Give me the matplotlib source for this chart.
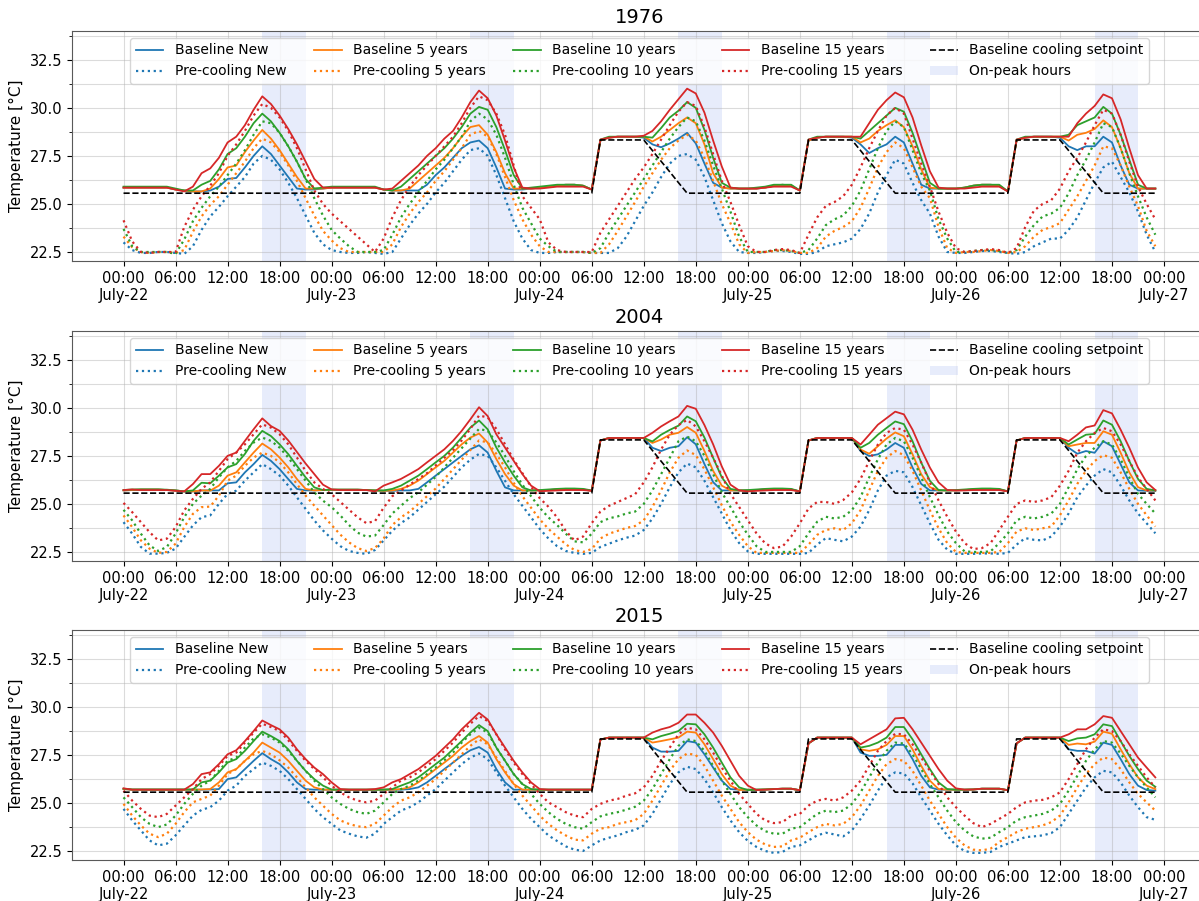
import numpy as np
import matplotlib.pyplot as plt
from matplotlib.ticker import MultipleLocator

# hourly indoor temperature, July-22 00:00 .. July-26 23:00 (one row per day)

# ---- 1976 ----
base_new_1976 = [
    25.85, 25.85, 25.85, 25.85, 25.85, 25.85, 25.75, 25.7, 25.65, 25.65, 25.7, 25.9, 26.3, 26.35, 26.9, 27.5, 28.0, 27.6, 27.0, 26.4, 25.8, 25.75, 25.75, 25.8,
    25.85, 25.85, 25.85, 25.85, 25.85, 25.85, 25.75, 25.7, 25.7, 25.7, 25.7, 26.0, 26.5, 26.9, 27.4, 27.9, 28.2, 28.3, 27.9, 26.9, 25.8, 25.75, 25.75, 25.8,
    25.85, 25.9, 25.95, 26.0, 26.0, 25.95, 25.75, 28.3, 28.45, 28.5, 28.5, 28.5, 28.45, 28.1, 27.95, 28.15, 28.4, 28.7, 28.15, 27.1, 26.1, 25.85, 25.8, 25.8,
    25.8, 25.8, 25.85, 25.95, 26.0, 25.95, 25.7, 28.3, 28.45, 28.5, 28.5, 28.5, 28.45, 28.1, 27.65, 27.9, 28.1, 28.5, 28.2, 27.1, 26.0, 25.8, 25.8, 25.8,
    25.8, 25.85, 25.95, 26.0, 26.0, 25.95, 25.65, 28.3, 28.45, 28.5, 28.5, 28.5, 28.45, 28.0, 27.8, 28.0, 28.0, 28.5, 28.2, 27.0, 26.0, 25.8, 25.8, 25.8,
]
base_5_1976 = [
    25.85, 25.85, 25.85, 25.85, 25.85, 25.85, 25.75, 25.7, 25.65, 25.65, 25.8, 26.3, 26.9, 27.0, 27.7, 28.3, 28.85, 28.4, 27.8, 27.1, 26.4, 25.8, 25.8, 25.8,
    25.85, 25.85, 25.85, 25.85, 25.85, 25.85, 25.75, 25.7, 25.7, 25.8, 26.2, 26.6, 27.0, 27.4, 27.9, 28.5, 29.0, 29.1, 28.6, 27.7, 26.6, 25.8, 25.8, 25.8,
    25.85, 25.9, 25.95, 26.0, 26.0, 25.95, 25.75, 28.3, 28.45, 28.5, 28.5, 28.5, 28.5, 28.25, 28.5, 28.85, 29.2, 29.5, 29.2, 28.1, 26.6, 25.85, 25.8, 25.8,
    25.8, 25.8, 25.85, 25.95, 26.0, 25.95, 25.7, 28.3, 28.45, 28.5, 28.5, 28.5, 28.5, 28.2, 28.4, 28.8, 29.1, 29.35, 29.0, 28.0, 26.8, 25.85, 25.8, 25.8,
    25.8, 25.85, 25.95, 26.0, 26.0, 25.95, 25.65, 28.3, 28.45, 28.5, 28.5, 28.5, 28.5, 28.3, 28.6, 28.7, 28.9, 29.35, 29.0, 27.9, 26.6, 25.8, 25.8, 25.8,
]
base_10_1976 = [
    25.9, 25.9, 25.9, 25.9, 25.9, 25.9, 25.8, 25.7, 25.7, 26.0, 26.2, 26.8, 27.6, 27.9, 28.5, 29.2, 29.7, 29.3, 28.7, 28.0, 27.2, 26.3, 25.8, 25.85,
    25.9, 25.9, 25.9, 25.9, 25.9, 25.9, 25.75, 25.7, 25.9, 26.3, 26.7, 27.1, 27.5, 27.9, 28.4, 29.0, 29.7, 30.05, 29.9, 29.0, 27.8, 26.5, 25.8, 25.85,
    25.9, 25.95, 26.0, 26.0, 26.0, 25.95, 25.75, 28.35, 28.5, 28.5, 28.5, 28.5, 28.5, 28.45, 28.95, 29.5, 29.85, 30.3, 30.0, 28.85, 27.4, 26.1, 25.85, 25.8,
    25.8, 25.85, 25.9, 26.0, 26.0, 26.0, 25.7, 28.35, 28.5, 28.5, 28.5, 28.5, 28.5, 28.4, 28.8, 29.2, 29.6, 30.0, 29.8, 28.7, 27.4, 26.1, 25.8, 25.8,
    25.8, 25.85, 25.95, 26.0, 26.0, 26.0, 25.65, 28.35, 28.5, 28.5, 28.5, 28.5, 28.5, 28.6, 29.1, 29.3, 29.5, 30.05, 29.7, 28.6, 27.3, 26.0, 25.8, 25.8,
]
base_15_1976 = [
    25.85, 25.85, 25.85, 25.85, 25.85, 25.85, 25.75, 25.65, 25.9, 26.6, 26.85, 27.4, 28.2, 28.5, 29.1, 29.9, 30.6, 30.2, 29.6, 28.9, 28.1, 27.2, 26.3, 25.85,
    25.85, 25.85, 25.85, 25.85, 25.85, 25.85, 25.75, 25.8, 26.2, 26.6, 27.0, 27.5, 27.9, 28.4, 28.8, 29.5, 30.3, 30.9, 30.5, 29.6, 28.3, 26.9, 25.85, 25.8,
    25.8, 25.85, 25.9, 25.9, 25.9, 25.9, 25.75, 28.35, 28.45, 28.5, 28.5, 28.5, 28.55, 28.8, 29.3, 29.9, 30.45, 31.0, 30.75, 29.75, 28.3, 26.95, 25.85, 25.8,
    25.8, 25.8, 25.85, 25.9, 25.9, 25.9, 25.7, 28.35, 28.45, 28.5, 28.5, 28.5, 28.5, 28.5, 29.2, 29.9, 30.4, 30.8, 30.55, 29.5, 28.05, 26.7, 25.85, 25.8,
    25.8, 25.8, 25.85, 25.9, 25.9, 25.9, 25.65, 28.35, 28.45, 28.5, 28.5, 28.5, 28.5, 28.5, 29.2, 29.7, 30.1, 30.7, 30.5, 29.4, 27.9, 26.5, 25.8, 25.8,
]
pre_new_1976 = [
    23.0, 22.6, 22.45, 22.45, 22.5, 22.5, 22.45, 22.4, 22.8, 23.65, 24.35, 24.85, 25.4, 25.9, 26.4, 27.1, 27.5, 27.3, 26.8, 26.1, 25.3, 24.4, 23.5, 22.9,
    22.6, 22.5, 22.45, 22.45, 22.5, 22.45, 22.4, 22.5, 23.2, 23.9, 24.5, 25.0, 25.6, 26.1, 26.7, 27.3, 27.8, 27.9, 27.5, 26.5, 25.3, 24.1, 23.2, 22.6,
    22.45, 22.45, 22.5, 22.5, 22.5, 22.5, 22.45, 22.45, 22.45, 22.7, 23.3, 24.1, 24.9, 25.6, 26.4, 27.1, 27.5, 27.6, 27.3, 26.4, 25.2, 24.0, 23.05, 22.5,
    22.45, 22.45, 22.5, 22.55, 22.55, 22.5, 22.4, 22.4, 22.5, 22.8, 22.9, 23.0, 23.2, 23.7, 24.5, 25.6, 26.5, 27.3, 27.1, 26.1, 25.2, 24.5, 23.3, 22.5,
    22.45, 22.45, 22.5, 22.55, 22.55, 22.5, 22.45, 22.4, 22.5, 22.8, 23.0, 23.2, 23.2, 23.65, 24.3, 25.2, 26.1, 26.9, 27.2, 26.4, 25.6, 24.6, 23.4, 22.5,
]
pre_5_1976 = [
    23.3, 22.75, 22.5, 22.45, 22.5, 22.5, 22.45, 22.6, 23.55, 24.35, 24.95, 25.4, 26.0, 26.6, 27.2, 27.9, 28.4, 28.2, 27.7, 27.0, 26.2, 25.3, 24.4, 23.6,
    23.1, 22.7, 22.5, 22.5, 22.5, 22.5, 22.5, 22.9, 23.8, 24.5, 25.1, 25.6, 26.2, 26.7, 27.3, 27.9, 28.6, 28.8, 28.5, 27.6, 26.4, 25.2, 24.2, 23.4,
    22.8, 22.5, 22.5, 22.5, 22.5, 22.5, 22.45, 22.45, 22.9, 23.6, 24.35, 25.1, 25.9, 26.6, 27.3, 27.9, 28.3, 28.6, 28.3, 27.4, 26.2, 25.0, 24.0, 22.9,
    22.45, 22.5, 22.5, 22.55, 22.6, 22.55, 22.45, 22.45, 22.7, 23.3, 23.6, 23.8, 24.1, 24.8, 25.8, 26.9, 27.7, 28.2, 27.9, 26.9, 25.9, 25.3, 23.8, 22.7,
    22.45, 22.5, 22.5, 22.55, 22.6, 22.55, 22.45, 22.5, 22.8, 23.3, 23.65, 23.8, 24.0, 24.7, 25.4, 26.2, 27.0, 28.0, 27.9, 27.0, 25.9, 24.9, 23.6, 22.8,
]
pre_10_1976 = [
    23.7, 22.8, 22.5, 22.5, 22.5, 22.5, 22.4, 23.15, 24.1, 24.8, 25.4, 25.9, 26.5, 27.1, 27.8, 28.6, 29.3, 29.2, 28.7, 28.0, 27.2, 26.3, 25.3, 24.4,
    23.65, 23.2, 22.8, 22.5, 22.5, 22.5, 22.6, 23.4, 24.3, 25.0, 25.6, 26.2, 26.8, 27.3, 27.9, 28.5, 29.3, 29.7, 29.4, 28.6, 27.4, 26.0, 24.8, 24.0,
    23.2, 22.8, 22.5, 22.5, 22.5, 22.5, 22.45, 22.7, 23.5, 24.2, 24.9, 25.6, 26.3, 27.0, 27.7, 28.4, 29.0, 29.5, 29.3, 28.3, 27.0, 25.8, 24.6, 23.3,
    22.5, 22.5, 22.5, 22.6, 22.6, 22.55, 22.45, 22.6, 23.2, 23.9, 24.2, 24.4, 24.9, 25.7, 26.8, 27.9, 28.8, 29.3, 29.0, 27.8, 26.6, 25.7, 24.2, 23.2,
    22.5, 22.5, 22.55, 22.6, 22.6, 22.55, 22.45, 22.6, 23.3, 23.9, 24.35, 24.5, 24.8, 25.55, 26.5, 27.3, 28.2, 29.2, 29.0, 27.9, 26.6, 25.4, 24.3, 23.4,
]
pre_15_1976 = [
    24.15, 23.05, 22.5, 22.45, 22.5, 22.5, 22.5, 23.8, 24.7, 25.4, 25.95, 26.6, 27.5, 28.1, 28.8, 29.6, 30.2, 30.0, 29.5, 28.8, 27.9, 26.8, 25.7, 25.0,
    24.5, 24.1, 23.7, 23.3, 22.9, 22.5, 23.2, 24.3, 25.2, 25.9, 26.5, 27.0, 27.5, 28.0, 28.5, 29.2, 30.0, 30.6, 30.4, 29.7, 28.6, 27.0, 25.4, 24.8,
    24.2, 23.0, 22.6, 22.5, 22.5, 22.5, 22.5, 23.5, 24.2, 24.9, 25.6, 26.3, 26.9, 27.6, 28.35, 29.1, 29.8, 30.3, 30.1, 29.0, 27.6, 26.2, 25.1, 23.9,
    22.8, 22.5, 22.5, 22.6, 22.65, 22.6, 22.45, 23.4, 24.3, 24.9, 25.1, 25.4, 26.0, 26.9, 27.9, 28.8, 29.6, 30.0, 29.7, 28.4, 27.1, 25.9, 24.6, 23.5,
    22.7, 22.5, 22.55, 22.6, 22.65, 22.6, 22.45, 22.7, 23.8, 24.65, 25.0, 25.2, 25.8, 26.7, 27.4, 28.2, 29.1, 29.9, 29.7, 28.6, 27.2, 25.9, 25.0, 24.2,
]

# ---- 2004 ----
base_new_2004 = [
    25.7, 25.72, 25.75, 25.75, 25.75, 25.72, 25.7, 25.65, 25.65, 25.7, 25.7, 25.7, 26.07, 26.12, 26.64, 27.07, 27.55, 27.24, 26.81, 26.29, 25.78, 25.7, 25.7, 25.72,
    25.74, 25.74, 25.74, 25.74, 25.72, 25.7, 25.68, 25.68, 25.7, 25.7, 25.78, 26.12, 26.47, 26.81, 27.16, 27.5, 27.84, 28.05, 27.67, 26.72, 25.86, 25.7, 25.7, 25.7,
    25.7, 25.72, 25.75, 25.78, 25.78, 25.75, 25.68, 28.3, 28.43, 28.43, 28.43, 28.43, 28.43, 27.92, 27.75, 27.92, 28.0, 28.47, 28.1, 27.07, 26.13, 25.7, 25.7, 25.7,
    25.7, 25.72, 25.75, 25.78, 25.78, 25.75, 25.65, 28.3, 28.43, 28.43, 28.43, 28.43, 28.43, 27.75, 27.49, 27.58, 27.83, 28.17, 27.92, 26.89, 26.04, 25.7, 25.7, 25.7,
    25.7, 25.72, 25.75, 25.78, 25.78, 25.75, 25.65, 28.3, 28.43, 28.43, 28.43, 28.43, 28.43, 27.92, 27.61, 27.75, 27.66, 28.26, 28.0, 27.06, 26.12, 25.7, 25.68, 25.68,
]
base_5_2004 = [
    25.7, 25.72, 25.75, 25.75, 25.75, 25.72, 25.7, 25.65, 25.65, 25.7, 25.69, 25.95, 26.47, 26.64, 27.16, 27.67, 28.14, 27.84, 27.41, 26.9, 26.29, 25.78, 25.7, 25.72,
    25.74, 25.74, 25.74, 25.74, 25.72, 25.7, 25.68, 25.7, 25.78, 25.95, 26.21, 26.55, 26.9, 27.24, 27.67, 28.1, 28.45, 28.66, 28.19, 27.33, 26.55, 25.95, 25.7, 25.7,
    25.7, 25.72, 25.75, 25.78, 25.78, 25.75, 25.68, 28.3, 28.43, 28.43, 28.43, 28.43, 28.43, 28.17, 28.35, 28.6, 28.7, 29.0, 28.7, 27.75, 26.72, 25.95, 25.7, 25.7,
    25.7, 25.72, 25.75, 25.78, 25.78, 25.75, 25.65, 28.3, 28.43, 28.43, 28.43, 28.43, 28.43, 27.83, 27.61, 28.0, 28.4, 28.72, 28.52, 27.58, 26.55, 25.87, 25.7, 25.7,
    25.7, 25.72, 25.75, 25.78, 25.78, 25.75, 25.65, 28.3, 28.43, 28.43, 28.43, 28.43, 28.43, 28.0, 28.09, 28.17, 28.17, 28.78, 28.6, 27.66, 26.64, 25.87, 25.7, 25.7,
]
base_10_2004 = [
    25.72, 25.75, 25.75, 25.75, 25.75, 25.74, 25.7, 25.65, 25.7, 26.1, 26.07, 26.47, 26.9, 27.07, 27.6, 28.28, 28.8, 28.53, 28.1, 27.59, 26.98, 26.38, 25.86, 25.72,
    25.74, 25.74, 25.74, 25.74, 25.72, 25.7, 25.7, 25.78, 25.95, 26.21, 26.47, 26.81, 27.16, 27.5, 27.93, 28.45, 28.97, 29.34, 28.88, 27.93, 27.16, 26.47, 25.86, 25.7,
    25.72, 25.75, 25.78, 25.8, 25.8, 25.78, 25.7, 28.3, 28.43, 28.43, 28.43, 28.43, 28.43, 28.25, 28.6, 28.85, 29.07, 29.55, 29.3, 28.45, 27.4, 26.38, 25.78, 25.7,
    25.72, 25.75, 25.78, 25.8, 25.8, 25.78, 25.65, 28.3, 28.43, 28.43, 28.43, 28.43, 28.43, 27.92, 28.17, 28.6, 28.95, 29.29, 29.15, 28.26, 27.15, 26.2, 25.72, 25.7,
    25.72, 25.75, 25.78, 25.8, 25.8, 25.78, 25.65, 28.3, 28.43, 28.43, 28.43, 28.43, 28.43, 28.09, 28.35, 28.6, 28.64, 29.34, 29.12, 28.26, 27.23, 26.3, 25.78, 25.7,
]
base_15_2004 = [
    25.72, 25.75, 25.72, 25.72, 25.72, 25.72, 25.68, 25.65, 26.03, 26.55, 26.55, 26.98, 27.5, 27.67, 28.28, 28.88, 29.45, 29.05, 28.8, 28.3, 27.7, 27.1, 26.55, 26.0,
    25.75, 25.72, 25.72, 25.72, 25.72, 25.65, 25.95, 26.12, 26.3, 26.55, 26.81, 27.16, 27.5, 27.84, 28.28, 28.8, 29.4, 30.03, 29.57, 28.62, 27.93, 27.24, 26.55, 25.95,
    25.66, 25.68, 25.7, 25.72, 25.72, 25.72, 25.68, 28.3, 28.43, 28.43, 28.43, 28.43, 28.43, 28.7, 29.03, 29.3, 29.55, 30.1, 29.95, 29.1, 28.1, 26.95, 26.0, 25.7,
    25.65, 25.68, 25.7, 25.72, 25.72, 25.72, 25.65, 28.3, 28.43, 28.43, 28.43, 28.43, 28.43, 28.09, 28.6, 29.12, 29.46, 29.8, 29.66, 28.86, 27.83, 26.89, 26.12, 25.72,
    25.7, 25.7, 25.72, 25.72, 25.72, 25.72, 25.65, 28.3, 28.43, 28.43, 28.43, 28.43, 28.43, 28.26, 28.6, 28.98, 29.08, 29.88, 29.71, 28.86, 27.92, 26.89, 26.12, 25.72,
]
pre_new_2004 = [
    24.05, 23.45, 22.76, 22.41, 22.41, 22.45, 22.67, 23.28, 23.88, 24.31, 24.4, 25.0, 25.52, 25.69, 26.21, 26.64, 27.07, 26.81, 26.47, 25.95, 25.34, 24.74, 24.14, 23.62,
    23.19, 22.8, 22.55, 22.45, 22.4, 22.6, 23.1, 23.6, 24.0, 24.3, 24.7, 25.1, 25.5, 25.9, 26.4, 26.9, 27.3, 27.6, 27.5, 26.9, 26.2, 25.5, 24.9, 24.3,
    23.7, 23.2, 22.8, 22.55, 22.45, 22.4, 22.45, 22.76, 22.93, 23.1, 23.24, 23.35, 23.64, 24.24, 25.0, 25.87, 26.64, 27.1, 26.9, 26.2, 25.35, 24.5, 23.64, 22.96,
    22.53, 22.4, 22.4, 22.4, 22.4, 22.4, 22.4, 22.45, 22.88, 23.22, 23.13, 23.05, 23.3, 23.82, 24.67, 25.7, 26.47, 26.72, 26.64, 25.87, 24.93, 23.99, 23.13, 22.62,
    22.4, 22.4, 22.4, 22.42, 22.42, 22.4, 22.45, 22.88, 23.22, 23.13, 23.1, 23.3, 23.82, 24.5, 25.35, 25.95, 26.47, 26.81, 26.64, 25.95, 25.18, 24.5, 23.99, 23.47,
]
pre_5_2004 = [
    24.4, 23.79, 23.1, 22.67, 22.45, 22.5, 22.93, 23.79, 24.48, 24.83, 24.86, 25.43, 26.21, 26.47, 26.98, 27.41, 27.67, 27.5, 27.16, 26.64, 26.03, 25.43, 24.91, 24.4,
    23.9, 23.4, 23.0, 22.7, 22.55, 22.7, 23.2, 23.9, 24.3, 24.6, 25.0, 25.4, 25.8, 26.3, 26.8, 27.3, 27.8, 28.3, 28.2, 27.6, 26.9, 26.1, 25.4, 24.8,
    24.2, 23.7, 23.3, 22.9, 22.6, 22.5, 22.65, 23.2, 23.45, 23.6, 23.75, 23.85, 24.15, 24.84, 25.7, 26.64, 27.4, 27.78, 27.54, 26.8, 25.87, 24.93, 24.07, 23.39,
    22.8, 22.45, 22.45, 22.45, 22.45, 22.45, 22.45, 22.88, 23.39, 23.64, 23.73, 23.64, 23.99, 24.67, 25.7, 26.72, 27.4, 27.75, 27.54, 26.72, 25.7, 24.67, 23.73, 22.96,
    22.5, 22.45, 22.45, 22.45, 22.45, 22.5, 22.96, 23.56, 23.73, 23.64, 23.73, 23.82, 24.41, 25.18, 26.04, 26.72, 27.23, 27.54, 27.4, 26.64, 25.78, 25.0, 24.41, 23.82,
]
pre_10_2004 = [
    24.69, 24.14, 23.45, 22.84, 22.55, 22.76, 23.45, 24.31, 25.0, 25.43, 25.78, 26.38, 26.9, 27.24, 27.76, 28.19, 28.45, 28.28, 27.93, 27.41, 26.81, 26.21, 25.6, 25.17,
    24.83, 24.4, 23.9, 23.5, 23.3, 23.35, 23.9, 24.5, 24.9, 25.3, 25.6, 26.0, 26.4, 26.9, 27.4, 27.9, 28.4, 28.9, 28.8, 28.2, 27.5, 26.7, 26.0, 25.4,
    24.8, 24.3, 23.9, 23.45, 23.05, 23.0, 23.45, 24.05, 24.25, 24.35, 24.5, 24.6, 25.0, 25.7, 26.55, 27.4, 28.26, 28.5, 28.26, 27.5, 26.55, 25.6, 24.84, 24.07,
    23.4, 22.8, 22.5, 22.5, 22.5, 22.5, 22.8, 23.47, 24.07, 24.33, 24.24, 24.33, 24.67, 25.35, 26.38, 27.32, 28.09, 28.43, 28.26, 27.4, 26.38, 25.35, 24.41, 23.56,
    22.96, 22.53, 22.5, 22.5, 22.53, 22.96, 23.47, 24.15, 24.33, 24.24, 24.33, 24.5, 25.0, 25.87, 26.81, 27.49, 27.92, 28.26, 28.09, 27.32, 26.38, 25.52, 25.0, 24.5,
]
pre_15_2004 = [
    25.05, 24.57, 24.05, 23.53, 23.1, 23.19, 23.79, 24.66, 25.26, 25.78, 26.12, 26.72, 27.33, 27.67, 28.1, 28.62, 29.14, 28.97, 28.62, 28.1, 27.41, 26.72, 26.12, 25.78,
    25.5, 25.1, 24.7, 24.3, 24.0, 24.1, 24.8, 25.4, 25.7, 26.0, 26.3, 26.6, 27.0, 27.4, 27.8, 28.3, 28.9, 29.6, 29.5, 28.9, 28.1, 27.3, 26.6, 25.9,
    25.3, 24.85, 24.3, 23.6, 23.1, 23.3, 24.0, 24.6, 24.9, 25.1, 25.3, 25.5, 26.12, 26.9, 27.83, 28.6, 29.1, 29.37, 29.03, 28.26, 27.4, 26.47, 25.53, 24.84,
    24.15, 23.47, 22.95, 22.7, 22.78, 23.3, 23.99, 24.76, 25.1, 25.1, 25.0, 25.2, 25.6, 26.3, 27.23, 28.09, 28.69, 28.95, 28.86, 28.09, 27.15, 26.12, 25.18, 24.33,
    23.56, 22.96, 22.65, 22.7, 22.96, 23.64, 24.33, 25.0, 25.18, 25.1, 25.18, 25.35, 25.95, 26.72, 27.66, 28.26, 28.69, 28.95, 28.78, 28.09, 27.23, 26.38, 25.78, 25.18,
]

# ---- 2015 ----
base_new_2015 = [
    25.72, 25.69, 25.69, 25.69, 25.69, 25.69, 25.69, 25.69, 25.69, 25.69, 25.7, 25.72, 26.24, 26.33, 26.76, 27.19, 27.59, 27.28, 27.02, 26.59, 26.07, 25.72, 25.69, 25.69,
    25.69, 25.69, 25.69, 25.69, 25.69, 25.69, 25.69, 25.69, 25.69, 25.72, 25.81, 26.07, 26.41, 26.76, 27.1, 27.45, 27.74, 27.91, 27.62, 26.76, 26.07, 25.69, 25.69, 25.69,
    25.69, 25.69, 25.69, 25.69, 25.69, 25.69, 25.69, 28.3, 28.4, 28.4, 28.4, 28.4, 28.4, 27.88, 27.67, 27.67, 27.71, 28.22, 28.14, 27.53, 26.84, 26.16, 25.72, 25.69,
    25.69, 25.69, 25.7, 25.72, 25.74, 25.74, 25.66, 28.1, 28.4, 28.4, 28.4, 28.4, 28.4, 27.62, 27.45, 27.45, 27.5, 28.02, 28.02, 27.28, 26.41, 25.81, 25.69, 25.69,
    25.69, 25.69, 25.7, 25.74, 25.74, 25.74, 25.66, 28.1, 28.4, 28.4, 28.4, 28.4, 28.4, 27.79, 27.71, 27.71, 27.57, 28.14, 28.02, 27.28, 26.5, 25.9, 25.67, 25.64,
]
base_5_2015 = [
    25.72, 25.69, 25.69, 25.69, 25.69, 25.69, 25.69, 25.69, 25.69, 25.7, 25.72, 26.07, 26.59, 26.76, 27.19, 27.62, 28.14, 27.88, 27.62, 27.19, 26.67, 26.16, 25.81, 25.69,
    25.69, 25.69, 25.69, 25.69, 25.69, 25.69, 25.69, 25.69, 25.72, 25.81, 26.07, 26.41, 26.76, 27.1, 27.45, 27.88, 28.22, 28.48, 28.14, 27.28, 26.59, 25.98, 25.69, 25.69,
    25.69, 25.69, 25.69, 25.69, 25.69, 25.69, 25.69, 28.3, 28.4, 28.4, 28.4, 28.4, 28.4, 28.14, 28.22, 28.31, 28.4, 28.71, 28.66, 28.05, 27.28, 26.5, 25.9, 25.67,
    25.69, 25.69, 25.7, 25.72, 25.74, 25.74, 25.66, 28.1, 28.4, 28.4, 28.4, 28.4, 28.4, 27.79, 27.71, 27.79, 28.02, 28.48, 28.48, 27.79, 26.93, 26.16, 25.72, 25.69,
    25.69, 25.69, 25.7, 25.74, 25.74, 25.74, 25.66, 28.1, 28.4, 28.4, 28.4, 28.4, 28.4, 28.02, 28.09, 28.05, 28.19, 28.71, 28.6, 27.79, 27.02, 26.33, 25.9, 25.72,
]
base_10_2015 = [
    25.74, 25.7, 25.7, 25.7, 25.7, 25.7, 25.7, 25.7, 25.7, 26.07, 26.16, 26.59, 27.1, 27.28, 27.71, 28.22, 28.71, 28.48, 28.22, 27.79, 27.19, 26.67, 26.24, 25.9,
    25.69, 25.69, 25.69, 25.69, 25.69, 25.69, 25.69, 25.72, 25.9, 26.07, 26.33, 26.67, 27.02, 27.36, 27.79, 28.22, 28.66, 29.05, 28.74, 27.88, 27.19, 26.5, 25.98, 25.72,
    25.69, 25.69, 25.69, 25.69, 25.69, 25.69, 25.69, 28.3, 28.4, 28.4, 28.4, 28.4, 28.4, 28.31, 28.48, 28.6, 28.74, 29.12, 29.09, 28.57, 27.88, 27.1, 26.33, 25.81,
    25.67, 25.69, 25.7, 25.72, 25.74, 25.74, 25.66, 28.1, 28.4, 28.4, 28.4, 28.4, 28.4, 27.88, 27.97, 28.14, 28.4, 28.95, 28.95, 28.31, 27.53, 26.76, 26.07, 25.72,
    25.69, 25.69, 25.7, 25.74, 25.74, 25.74, 25.66, 28.1, 28.4, 28.4, 28.4, 28.4, 28.4, 28.22, 28.36, 28.4, 28.57, 29.09, 29.0, 28.22, 27.45, 26.76, 26.16, 25.84,
]
base_15_2015 = [
    25.76, 25.69, 25.69, 25.69, 25.69, 25.69, 25.69, 25.69, 25.98, 26.5, 26.59, 27.02, 27.53, 27.74, 28.22, 28.74, 29.29, 29.05, 28.83, 28.4, 27.79, 27.28, 26.84, 26.5,
    26.07, 25.72, 25.69, 25.69, 25.69, 25.72, 25.81, 26.07, 26.24, 26.5, 26.76, 27.1, 27.45, 27.88, 28.31, 28.83, 29.26, 29.69, 29.34, 28.57, 27.88, 27.19, 26.59, 26.07,
    25.72, 25.69, 25.69, 25.69, 25.69, 25.69, 25.69, 28.3, 28.4, 28.4, 28.4, 28.4, 28.4, 28.66, 28.83, 28.95, 29.17, 29.6, 29.6, 29.17, 28.66, 27.97, 27.19, 26.41,
    25.9, 25.67, 25.69, 25.72, 25.74, 25.74, 25.66, 28.1, 28.4, 28.4, 28.4, 28.4, 28.4, 28.05, 28.31, 28.57, 28.83, 29.4, 29.43, 28.83, 28.14, 27.45, 26.76, 26.16,
    25.76, 25.69, 25.7, 25.74, 25.74, 25.74, 25.66, 28.1, 28.4, 28.4, 28.4, 28.4, 28.4, 28.57, 28.83, 28.83, 29.09, 29.52, 29.43, 28.74, 28.05, 27.36, 26.84, 26.33,
]
pre_new_2015 = [
    24.69, 24.09, 23.57, 23.05, 22.79, 22.88, 23.31, 23.83, 24.34, 24.64, 24.78, 25.12, 25.64, 25.9, 26.41, 26.76, 27.1, 26.93, 26.67, 26.24, 25.72, 25.21, 24.69, 24.26,
    23.91, 23.57, 23.4, 23.26, 23.19, 23.4, 23.91, 24.26, 24.6, 24.78, 25.03, 25.38, 25.72, 26.16, 26.59, 27.02, 27.36, 27.57, 27.28, 26.59, 25.9, 25.29, 24.69, 24.17,
    23.74, 23.31, 23.02, 22.74, 22.57, 22.5, 22.79, 23.05, 23.19, 23.31, 23.48, 23.6, 23.83, 24.43, 25.21, 25.98, 26.59, 26.88, 26.76, 26.24, 25.55, 24.78, 24.09, 23.48,
    23.02, 22.71, 22.5, 22.4, 22.45, 22.71, 22.79, 23.05, 23.31, 23.45, 23.36, 23.26, 23.57, 24.17, 24.86, 25.64, 26.33, 26.59, 26.53, 26.02, 25.29, 24.6, 23.91, 23.31,
    22.79, 22.5, 22.4, 22.4, 22.45, 22.71, 22.88, 23.05, 23.22, 23.26, 23.31, 23.43, 23.74, 24.43, 25.12, 25.81, 26.33, 26.67, 26.59, 26.07, 25.38, 24.78, 24.26, 24.12,
]
pre_5_2015 = [
    24.95, 24.34, 23.83, 23.4, 23.22, 23.4, 23.91, 24.52, 25.03, 25.21, 25.38, 25.9, 26.5, 26.76, 27.19, 27.53, 27.71, 27.53, 27.22, 26.84, 26.33, 25.81, 25.29, 24.86,
    24.43, 24.09, 23.91, 23.78, 23.74, 23.91, 24.34, 24.78, 25.12, 25.29, 25.55, 25.9, 26.24, 26.67, 27.1, 27.53, 27.97, 28.31, 28.05, 27.36, 26.67, 25.98, 25.38, 24.86,
    24.34, 23.91, 23.57, 23.31, 23.09, 23.05, 23.4, 23.66, 23.74, 23.91, 24.0, 24.1, 24.43, 25.12, 25.9, 26.67, 27.28, 27.57, 27.5, 26.93, 26.16, 25.38, 24.69, 24.0,
    23.48, 23.09, 22.84, 22.71, 22.74, 23.05, 23.19, 23.48, 23.74, 23.91, 23.83, 23.91, 24.26, 24.86, 25.64, 26.41, 27.02, 27.28, 27.19, 26.67, 25.9, 25.12, 24.43, 23.74,
    23.19, 22.79, 22.57, 22.53, 22.62, 22.97, 23.22, 23.48, 23.66, 23.74, 23.83, 24.0, 24.34, 25.03, 25.81, 26.5, 27.02, 27.36, 27.28, 26.76, 26.07, 25.47, 25.03, 24.6,
]
pre_10_2015 = [
    25.29, 24.78, 24.26, 23.91, 23.74, 23.88, 24.34, 24.95, 25.47, 25.9, 26.16, 26.67, 27.19, 27.36, 27.88, 28.36, 28.57, 28.4, 28.14, 27.71, 27.19, 26.67, 26.16, 25.72,
    25.29, 24.95, 24.69, 24.52, 24.43, 24.6, 25.03, 25.47, 25.72, 25.9, 26.16, 26.5, 26.84, 27.22, 27.62, 28.14, 28.57, 28.91, 28.66, 27.88, 27.19, 26.5, 25.98, 25.47,
    24.95, 24.52, 24.17, 23.91, 23.74, 23.66, 24.0, 24.3, 24.43, 24.52, 24.65, 24.8, 25.12, 25.72, 26.5, 27.28, 27.97, 28.31, 28.22, 27.71, 26.93, 26.16, 25.47, 24.78,
    24.26, 23.83, 23.53, 23.4, 23.4, 23.66, 23.74, 24.09, 24.43, 24.6, 24.52, 24.6, 24.95, 25.55, 26.33, 27.1, 27.71, 28.14, 28.09, 27.53, 26.76, 25.98, 25.29, 24.6,
    24.0, 23.57, 23.26, 23.14, 23.19, 23.48, 23.74, 24.09, 24.26, 24.34, 24.43, 24.6, 24.95, 25.64, 26.41, 27.19, 27.79, 28.22, 28.14, 27.57, 26.93, 26.33, 25.81, 25.29,
]
pre_15_2015 = [
    25.64, 25.12, 24.69, 24.34, 24.26, 24.43, 24.86, 25.29, 25.72, 26.24, 26.5, 26.93, 27.45, 27.62, 28.14, 28.66, 29.12, 28.95, 28.74, 28.26, 27.71, 27.19, 26.76, 26.33,
    25.9, 25.55, 25.29, 25.12, 25.03, 25.12, 25.47, 25.81, 26.16, 26.33, 26.59, 26.93, 27.28, 27.71, 28.14, 28.66, 29.12, 29.52, 29.26, 28.57, 27.79, 27.1, 26.5, 25.98,
    25.47, 25.03, 24.78, 24.52, 24.34, 24.26, 24.69, 24.95, 25.12, 25.21, 25.38, 25.5, 25.81, 26.41, 27.19, 27.88, 28.57, 28.91, 28.83, 28.31, 27.62, 26.84, 26.16, 25.47,
    24.95, 24.43, 24.09, 23.95, 24.0, 24.34, 24.43, 24.86, 25.12, 25.21, 25.12, 25.29, 25.64, 26.16, 26.93, 27.71, 28.22, 28.6, 28.57, 28.05, 27.36, 26.67, 25.98, 25.29,
    24.78, 24.34, 23.95, 23.74, 23.91, 24.17, 24.43, 24.78, 25.03, 25.12, 25.16, 25.29, 25.55, 26.24, 27.02, 27.79, 28.4, 28.83, 28.74, 28.22, 27.53, 26.93, 26.33, 25.81,
]

# baseline cooling setpoint schedule (78 F normal, 83 F with evening ramp on last three days)
sp_normal_day = [25.56] * 24
sp_raised_day = [25.56] * 7 + [28.33] * 6 + [27.78, 27.22, 26.67, 26.11] + [25.56] * 7
setpoint = sp_normal_day * 2 + sp_raised_day * 3

day_labels = ['July-22', 'July-23', 'July-24', 'July-25', 'July-26', 'July-27']
hour_labels = ['00:00', '06:00', '12:00', '18:00']
peak_start, peak_end = 16, 21  # on-peak hours each day

years = ['1976', '2004', '2015']
ages = ['New', '5 years', '10 years', '15 years']
colors = ['tab:blue', 'tab:orange', 'tab:green', 'tab:red']

baseline = {
    '1976': [base_new_1976, base_5_1976, base_10_1976, base_15_1976],
    '2004': [base_new_2004, base_5_2004, base_10_2004, base_15_2004],
    '2015': [base_new_2015, base_5_2015, base_10_2015, base_15_2015],
}
precool = {
    '1976': [pre_new_1976, pre_5_1976, pre_10_1976, pre_15_1976],
    '2004': [pre_new_2004, pre_5_2004, pre_10_2004, pre_15_2004],
    '2015': [pre_new_2015, pre_5_2015, pre_10_2015, pre_15_2015],
}

hours = np.arange(len(setpoint))
tick_pos = np.arange(0, 24 * (len(day_labels) - 1) + 1, 6)
tick_lab = []
for i in range(len(tick_pos)):
    if i % 4 == 0:
        tick_lab.append(hour_labels[0] + '\n' + day_labels[i // 4])
    else:
        tick_lab.append(hour_labels[i % 4])

fig = plt.figure(figsize=(11.99, 9.01), dpi=100)
bottoms = [0.7103, 0.3774, 0.0455]

for year, bottom in zip(years, bottoms):
    ax = fig.add_axes([0.060, bottom, 0.9466, 0.2553])
    for age, c, b, p in zip(ages, colors, baseline[year], precool[year]):
        ax.plot(hours, b, color=c, lw=1.3, label='Baseline ' + age)
        ax.plot(hours, p, color=c, lw=1.6, ls=':', label='Pre-cooling ' + age)
    ax.plot(hours, setpoint, 'k--', lw=1.2, label='Baseline cooling setpoint')
    for d in range(len(day_labels) - 1):
        ax.axvspan(24 * d + peak_start, 24 * d + peak_end, color='royalblue', alpha=0.12, lw=0,
                   label='On-peak hours' if d == 0 else '_nolegend_')

    ax.set_ylim(22.03, 34.0)
    ax.yaxis.set_major_locator(MultipleLocator(2.5))
    ax.yaxis.set_minor_locator(MultipleLocator(1.25))
    ax.set_xticks(tick_pos)
    ax.set_xticklabels(tick_lab)
    ax.tick_params(labelsize=10.5)
    ax.grid(which='both', color='#b0b0b0', alpha=0.45, lw=0.8)
    for s in ax.spines.values():
        s.set_color('0.35')
    ax.set_ylabel('Temperature [°C]', fontsize=11)
    ax.set_title(year, fontsize=14)
    ax.legend(loc='upper center', ncol=5, fontsize=10)

fig.savefig('out.png', dpi=100)
